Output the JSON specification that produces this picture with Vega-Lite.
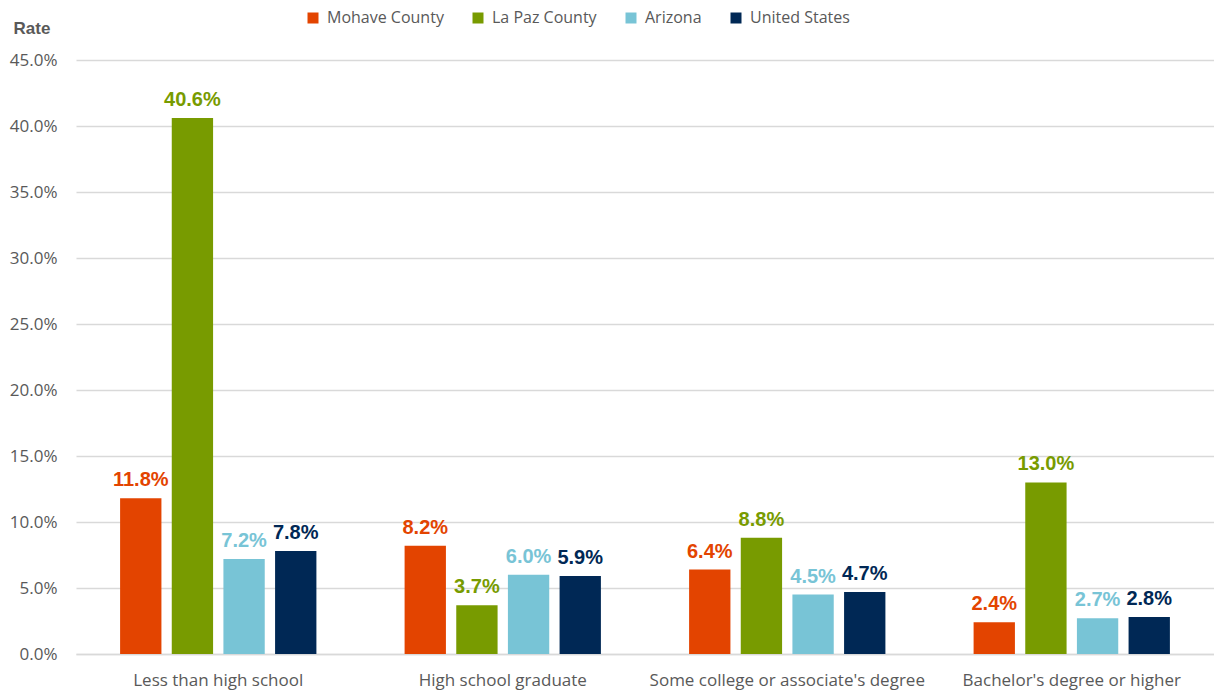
{
  "$schema": "https://vega.github.io/schema/vega-lite/v6.json",
  "autosize": "none",
  "width": 1138,
  "height": 594,
  "padding": {"left": 76, "top": 60, "right": 0, "bottom": 38},
  "background": "white",
  "config": {"view": {"stroke": null}},
  "data": {
    "values": [
      {"level": "Less than high school", "area": "Mohave County", "rate": 0.118},
      {"level": "Less than high school", "area": "La Paz County", "rate": 0.406},
      {"level": "Less than high school", "area": "Arizona", "rate": 0.072},
      {"level": "Less than high school", "area": "United States", "rate": 0.078},
      {"level": "High school graduate", "area": "Mohave County", "rate": 0.082},
      {"level": "High school graduate", "area": "La Paz County", "rate": 0.037},
      {"level": "High school graduate", "area": "Arizona", "rate": 0.060},
      {"level": "High school graduate", "area": "United States", "rate": 0.059},
      {"level": "Some college or associate's degree", "area": "Mohave County", "rate": 0.064},
      {"level": "Some college or associate's degree", "area": "La Paz County", "rate": 0.088},
      {"level": "Some college or associate's degree", "area": "Arizona", "rate": 0.045},
      {"level": "Some college or associate's degree", "area": "United States", "rate": 0.047},
      {"level": "Bachelor's degree or higher", "area": "Mohave County", "rate": 0.024},
      {"level": "Bachelor's degree or higher", "area": "La Paz County", "rate": 0.130},
      {"level": "Bachelor's degree or higher", "area": "Arizona", "rate": 0.027},
      {"level": "Bachelor's degree or higher", "area": "United States", "rate": 0.028}
    ]
  },
  "encoding": {
    "x": {
      "field": "level",
      "type": "nominal",
      "sort": null,
      "scale": {"paddingInner": 0.31, "paddingOuter": 0.155},
      "axis": {
        "title": null,
        "labelAngle": 0,
        "labelFont": "Open Sans",
        "labelFontSize": 17,
        "labelColor": "#595959",
        "labelPadding": 18,
        "labelLimit": 400,
        "ticks": false,
        "domain": true,
        "domainColor": "#d9d9d9",
        "domainWidth": 1.5
      }
    },
    "xOffset": {
      "field": "area",
      "type": "nominal",
      "sort": ["Mohave County", "La Paz County", "Arizona", "United States"],
      "scale": {"paddingInner": 0.2}
    },
    "y": {
      "field": "rate",
      "type": "quantitative",
      "scale": {"domain": [0, 0.45], "nice": false},
      "axis": {
        "title": "Rate",
        "titleAngle": 0,
        "titleAlign": "left",
        "titleBaseline": "alphabetic",
        "titleX": -63,
        "titleY": -27,
        "titleFont": "Liberation Sans",
        "titleFontSize": 17,
        "titleFontWeight": "bold",
        "titleColor": "#595959",
        "format": ".1%",
        "values": [0, 0.05, 0.1, 0.15, 0.2, 0.25, 0.3, 0.35, 0.4, 0.45],
        "labelFont": "Open Sans",
        "labelFontSize": 17,
        "labelColor": "#595959",
        "labelPadding": 19,
        "ticks": false,
        "domain": false,
        "gridColor": "#d9d9d9",
        "gridWidth": 1.5
      }
    },
    "color": {
      "field": "area",
      "type": "nominal",
      "sort": ["Mohave County", "La Paz County", "Arizona", "United States"],
      "scale": {
        "domain": ["Mohave County", "La Paz County", "Arizona", "United States"],
        "range": ["#E34400", "#789B00", "#78C4D6", "#002855"]
      }
    }
  },
  "layer": [
    {
      "mark": {"type": "bar"},
      "encoding": {
        "color": {
          "field": "area",
          "type": "nominal",
          "sort": ["Mohave County", "La Paz County", "Arizona", "United States"],
          "scale": {
            "domain": ["Mohave County", "La Paz County", "Arizona", "United States"],
            "range": ["#E34400", "#789B00", "#78C4D6", "#002855"]
          },
          "legend": {
            "title": null,
            "orient": "none",
            "direction": "horizontal",
            "legendX": 229,
            "legendY": -50,
            "symbolType": "square",
            "symbolSize": 121,
            "symbolStrokeWidth": 0,
            "labelFont": "Open Sans",
            "labelFontSize": 16,
            "labelColor": "#595959",
            "columnPadding": 26,
            "labelOffset": 6
          }
        }
      }
    },
    {
      "mark": {
        "type": "text",
        "baseline": "bottom",
        "dy": -8,
        "font": "Liberation Sans",
        "fontWeight": "bold",
        "fontSize": 20
      },
      "encoding": {
        "text": {"field": "rate", "type": "quantitative", "format": ".1%"},
        "color": {
          "field": "area",
          "type": "nominal",
          "legend": null
        }
      }
    }
  ]
}
